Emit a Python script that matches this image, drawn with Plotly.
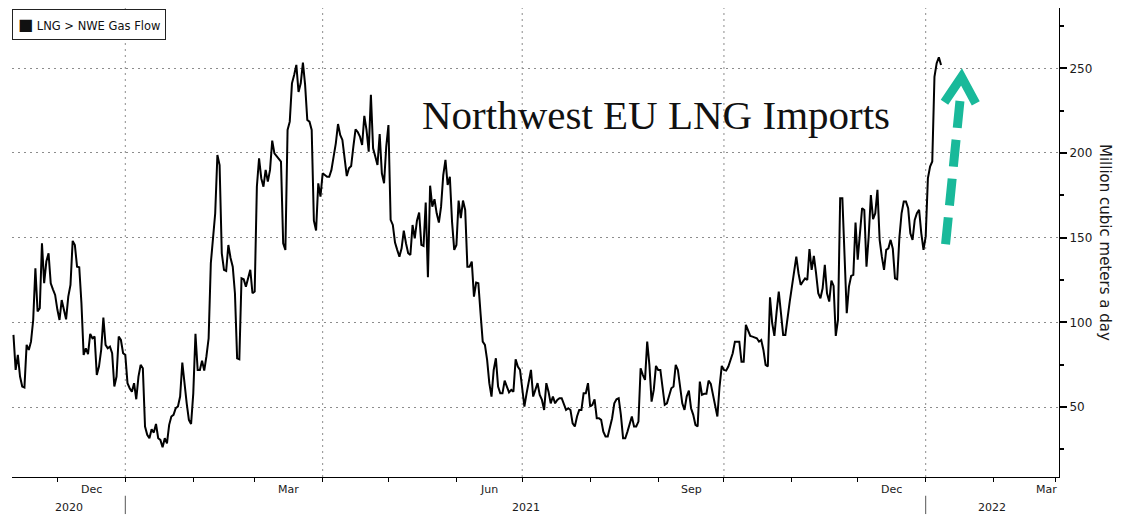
import pandas as pd
import plotly.graph_objects as go

# ---------------- data ----------------
start_date = "2020-11-11"          # first daily observation
flow = [
    92.6, 71.9, 80.8, 68.0, 62.1, 61.5, 86.7, 83.7, 88.6, 101.4,
    131.9, 106.4, 108.3, 146.7, 123.1, 135.9, 140.8, 123.1, 119.5, 116.2,
    107.7, 101.4, 113.2, 107.9, 101.8, 115.2, 122.1, 148.1, 145.7, 132.9,
    132.5, 111.3, 80.8, 84.7, 81.2, 93.2, 90.6, 91.6, 69.0, 73.9,
    83.7, 102.8, 86.7, 84.7, 85.7, 81.8, 62.1, 68.0, 91.6, 89.6,
    81.8, 80.8, 64.1, 61.1, 59.1, 64.1, 54.6, 68.0, 74.9, 72.9,
    38.5, 33.6, 31.6, 36.9, 34.9, 40.0, 31.6, 30.6, 26.3, 31.6,
    28.6, 39.5, 44.4, 45.4, 49.3, 50.3, 56.2, 76.2, 62.1, 52.2,
    42.4, 40.0, 58.1, 93.2, 71.9, 71.9, 77.4, 71.5, 80.0, 90.6,
    134.9, 148.7, 164.4, 198.8, 192.9, 140.8, 131.0, 130.4, 145.7, 138.0,
    132.9, 117.2, 78.8, 78.2, 126.0, 125.4, 121.1, 126.0, 131.0, 117.2,
    118.2, 180.1, 196.9, 185.1, 180.1, 190.0, 183.1, 190.0, 207.3, 199.8,
    197.9, 196.5, 194.9, 146.7, 142.8, 213.6, 218.5, 241.1, 246.1, 252.0,
    236.0, 241.1, 253.3, 240.2, 219.5, 218.5, 213.6, 160.0, 154.2, 182.1,
    174.2, 188.0, 187.0, 186.0, 186.0, 190.0, 197.9, 205.7, 217.1, 210.6,
    207.7, 196.9, 186.4, 191.0, 192.3, 203.8, 214.0, 212.4, 209.7, 204.7,
    221.9, 213.6, 200.8, 234.3, 202.8, 197.9, 192.9, 211.2, 188.0, 182.1,
    203.8, 216.5, 160.5, 157.5, 147.1, 142.8, 138.8, 143.7, 154.2, 146.7,
    140.8, 139.8, 157.5, 149.6, 160.0, 164.8, 145.7, 145.1, 170.7, 126.6,
    180.7, 168.3, 172.7, 164.4, 158.9, 168.3, 187.0, 195.9, 181.1, 186.0,
    159.5, 142.8, 145.7, 171.9, 161.5, 171.9, 166.4, 132.9, 132.9, 135.9,
    115.2, 123.5, 123.1, 105.4, 88.6, 86.7, 77.8, 64.1, 56.2, 71.9,
    78.8, 62.1, 58.1, 58.1, 65.6, 62.1, 58.7, 60.1, 59.1, 78.2,
    73.9, 71.9, 60.1, 50.3, 58.1, 66.0, 71.9, 56.2, 59.7, 64.1,
    57.2, 54.2, 48.3, 64.1, 59.1, 52.2, 56.2, 52.2, 54.2, 55.2,
    55.2, 52.2, 48.3, 49.3, 48.3, 40.4, 38.5, 44.4, 48.3, 48.3,
    58.1, 58.1, 64.1, 50.3, 51.3, 54.6, 43.4, 43.4, 42.4, 35.5,
    32.6, 32.6, 38.5, 43.4, 52.2, 54.6, 55.2, 45.4, 31.6, 31.6,
    35.5, 40.4, 44.4, 38.5, 38.5, 41.4, 72.9, 69.0, 66.0, 88.6,
    74.9, 53.2, 60.1, 74.3, 71.9, 71.9, 60.1, 51.3, 52.2, 57.2,
    61.1, 62.1, 74.9, 71.9, 62.1, 52.2, 48.3, 56.2, 59.7, 49.3,
    45.4, 39.5, 38.5, 65.0, 57.2, 57.8, 57.8, 65.6, 63.7, 57.8,
    50.3, 44.4, 62.1, 74.3, 71.9, 71.5, 73.9, 78.0, 81.8, 88.6,
    88.6, 88.6, 76.8, 76.8, 98.5, 95.5, 92.0, 91.6, 91.0, 90.6,
    88.6, 89.6, 83.7, 74.9, 73.9, 114.8, 99.5, 92.0, 106.0, 118.2,
    105.4, 92.6, 92.6, 101.0, 112.3, 121.1, 131.0, 138.8, 129.0, 122.1,
    124.1, 126.0, 125.0, 143.2, 131.0, 139.2, 129.0, 117.2, 114.2, 120.1,
    133.9, 117.2, 112.3, 124.7, 121.5, 92.0, 101.4, 173.3, 173.3, 134.0,
    105.4, 121.1, 127.4, 128.0, 158.9, 137.0, 153.6, 167.4, 166.4, 132.9,
    150.6, 175.2, 160.9, 164.4, 178.2, 148.7, 138.8, 131.0, 142.8, 143.7,
    148.7, 143.5, 126.0, 125.4, 150.0, 164.4, 171.3, 171.3, 167.4, 152.6,
    148.7, 160.5, 164.4, 166.4, 152.6, 142.8, 150.6, 185.0, 192.0, 195.0,
    245.0, 253.0, 256.5, 252.0,
]
dates = pd.date_range(start_date, periods=len(flow), freq="D")

series_name = "LNG &gt; NWE Gas Flow"
chart_title = "Northwest EU LNG Imports"
y_title = "Million cubic meters a day"

y_ticks = [50, 100, 150, 200, 250]
y_minor_ticks = [25, 75, 125, 175, 225, 275]
y_range = [8.7, 285.6]
x_range = [pd.Timestamp("2020-11-10 08:00"), pd.Timestamp("2022-03-02 19:00")]

month_ticks = list(pd.date_range("2020-12-01", "2022-03-01", freq="MS"))
quarter_lines = ["2021-01-01", "2021-04-01", "2021-07-01", "2021-10-01", "2022-01-01"]
year_breaks = ["2021-01-01", "2022-01-01"]
month_labels = [("2020-12-01", "Dec"), ("2021-03-01", "Mar"), ("2021-06-01", "Jun"),
                ("2021-09-01", "Sep"), ("2021-12-01", "Dec"), ("2022-03-01", "Mar")]
year_labels = ["2020", "2021", "2022"]

# ---------------- styling ----------------
FONT = "DejaVu Sans"
GRID = "#8c8c8c"
TEAL = "#19b99a"
W, H = 1126, 531
M = dict(l=12, r=67, t=8, b=54)

fig = go.Figure()
fig.add_trace(go.Scatter(x=dates, y=flow, mode="lines",
                         line=dict(color="#000000", width=2),
                         showlegend=False, hoverinfo="skip"))

shapes = []
for q in quarter_lines:
    shapes.append(dict(type="line", xref="x", yref="paper", x0=q, x1=q, y0=0, y1=1,
                       line=dict(color=GRID, width=1, dash="2px,4px"), layer="below"))
for yb in year_breaks:
    shapes.append(dict(type="line", xref="x", yref="paper", x0=yb, x1=yb,
                       y0=-0.040, y1=-0.079, line=dict(color="#555555", width=1)))

# teal dashed arrow (paper coordinates)
shapes.append(dict(type="line", xref="paper", yref="paper",
                   x0=0.9054, y0=0.8017, x1=0.8911, y1=0.4840,
                   line=dict(color=TEAL, width=9, dash="27px,12px")))
shapes.append(dict(type="path", xref="paper", yref="paper",
                   path="M 0.8906,0.7990 L 0.9069,0.8530 L 0.9205,0.7965",
                   line=dict(color=TEAL, width=9)))

annotations = []
for m_start, lab in month_labels:
    s = pd.Timestamp(m_start)
    e = s + pd.offsets.MonthBegin(1)
    mid = s + (e - s) / 2
    if mid > x_range[1]:
        annotations.append(dict(x=x_range[1], xref="x", xanchor="right", y=-0.0256, yref="paper",
                                yanchor="middle", text=lab, showarrow=False,
                                font=dict(family=FONT, size=11, color="#1a1a1a")))
    else:
        annotations.append(dict(x=mid, xref="x", xanchor="center", y=-0.0256, yref="paper",
                                yanchor="middle", text=lab, showarrow=False,
                                font=dict(family=FONT, size=11, color="#1a1a1a")))

for yl in year_labels:
    s = max(pd.Timestamp(f"{yl}-01-01"), x_range[0])
    e = min(pd.Timestamp(f"{int(yl) + 1}-01-01"), x_range[1])
    annotations.append(dict(x=s + (e - s) / 2, xref="x", xanchor="center", y=-0.064, yref="paper",
                            yanchor="middle", text=yl, showarrow=False,
                            font=dict(family=FONT, size=11, color="#1a1a1a")))

annotations.append(dict(x=0.0, xref="paper", xanchor="left", y=0.998, yref="paper", yanchor="top",
                        text="<span style='font-size:16px'>■</span> " + series_name,
                        showarrow=False, align="left",
                        font=dict(family=FONT, size=11.5, color="#111111"),
                        bordercolor="#222222", borderwidth=1, borderpad=5, bgcolor="white"))

annotations.append(dict(x=0.3897, xref="paper", xanchor="left", y=0.7708, yref="paper",
                        yanchor="middle", text=chart_title, showarrow=False,
                        font=dict(family="Liberation Serif", size=41, color="#111111")))

annotations.append(dict(x=1.0439, xref="paper", xanchor="center", y=0.499, yref="paper",
                        yanchor="middle", text=y_title, showarrow=False, textangle=90,
                        font=dict(family=FONT, size=15, color="#1a1a1a")))

fig.update_layout(
    width=W, height=H, margin=M,
    paper_bgcolor="white", plot_bgcolor="white",
    shapes=shapes, annotations=annotations,
    xaxis=dict(type="date", range=x_range, showline=True, linecolor="black", linewidth=1,
               ticks="outside", tickmode="array", tickvals=month_ticks, ticklen=4,
               tickcolor="black", showticklabels=False, showgrid=False, zeroline=False),
    yaxis=dict(side="right", range=y_range, tickmode="array", tickvals=y_ticks,
               ticks="outside", ticklen=7, tickwidth=2, tickcolor="black",
               showline=True, linecolor="black", linewidth=1,
               showgrid=True, gridcolor=GRID, griddash="2px,4px", gridwidth=1,
               zeroline=False,
               tickfont=dict(family=FONT, size=12, color="#1a1a1a"),
               minor=dict(tickmode="array", tickvals=y_minor_ticks, ticks="outside",
                          ticklen=4, tickcolor="black", showgrid=False)),
)

fig.write_html("out.html")
